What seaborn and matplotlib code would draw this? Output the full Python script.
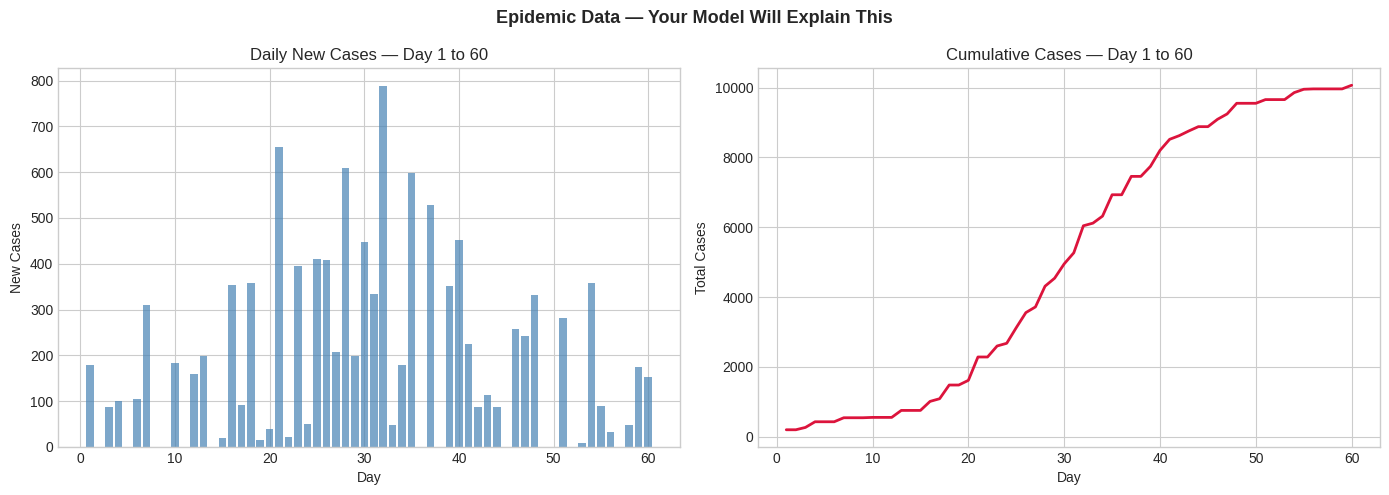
import matplotlib
matplotlib.use("Agg")
import matplotlib.pyplot as plt
import seaborn as sns
import numpy as np

days = list(range(1, 61))
new_cases = [179, 0, 88, 101, 0, 105, 310, 0, 0, 184,
             0, 160, 199, 0, 20, 354, 92, 358, 16, 40,
             655, 22, 395, 51, 411, 408, 208, 609, 199, 448,
             334, 788, 49, 180, 598, 0, 528, 0, 352, 452,
             225, 88, 114, 88, 0, 258, 243, 332, 0, 0,
             282, 0, 9, 358, 90, 33, 0, 47, 175, 153]
total_cases = [201, 201, 268, 430, 430, 430, 545, 545, 545, 555,
               555, 555, 755, 755, 755, 1013, 1090, 1482, 1482, 1616,
               2285, 2285, 2600, 2677, 3126, 3556, 3719, 4312, 4541, 4952,
               5268, 6042, 6118, 6319, 6931, 6931, 7457, 7457, 7744, 8203,
               8518, 8623, 8757, 8881, 8881, 9092, 9245, 9550, 9550, 9550,
               9656, 9656, 9656, 9856, 9952, 9962, 9962, 9962, 9962, 10067]

plt.style.use("seaborn-v0_8-whitegrid")
plt.rcParams['font.family'] = ['Liberation Sans', 'DejaVu Sans']

fig, axes = plt.subplots(1, 2, figsize=(13.89, 4.95), dpi=100)
fig.subplots_adjust(left=0.0418, right=0.9935, bottom=0.097, top=0.8626, wspace=0.1254)

ax = axes[0]
sns.barplot(x=days, y=new_cases, native_scale=True, color='steelblue',
            saturation=1, alpha=0.7, linewidth=0, ax=ax)
ax.set_xlim(-2.37, 63.37)
ax.set_title("Daily New Cases — Day 1 to 60", fontsize=12)
ax.set_xlabel("Day", fontsize=10)
ax.set_ylabel("New Cases", fontsize=10)
ax.tick_params(labelsize=10)

ax = axes[1]
sns.lineplot(x=days, y=total_cases, color='crimson', linewidth=2, ax=ax)
ax.set_title("Cumulative Cases — Day 1 to 60", fontsize=12)
ax.set_xlabel("Day", fontsize=10)
ax.set_ylabel("Total Cases", fontsize=10)
ax.tick_params(labelsize=10)

fig.suptitle("Epidemic Data — Your Model Will Explain This", fontsize=13,
             fontweight='bold', y=0.963, va='center')
fig.savefig("out.png", dpi=100)
